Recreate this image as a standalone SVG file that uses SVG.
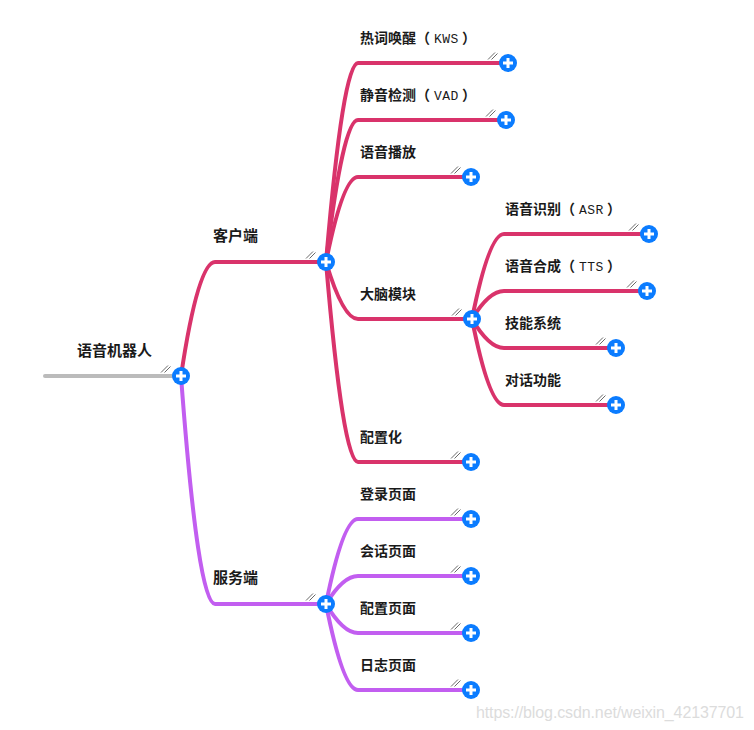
<svg xmlns="http://www.w3.org/2000/svg" xmlns:xlink="http://www.w3.org/1999/xlink" width="754" height="730" viewBox="0 0 754 730">
<defs>
<style>
.lbl{font-family:"Noto Sans CJK SC","Liberation Sans",sans-serif;font-size:14px;font-weight:600;fill:#1a1a1a}
.big{font-size:15px}
.lat{font-family:"Liberation Mono",monospace;font-size:13px;font-weight:normal;letter-spacing:0.5px}
.c{fill:none;stroke-width:4;stroke-linecap:round;stroke-linejoin:round}
.red{stroke:#d9336b}
.pur{stroke:#c25ef0}
.wm{font-family:"Liberation Sans",Arial,sans-serif;font-size:16px;fill:#dcdcdc}
</style>
<g id="plus">
<path d="M-20 -3.5L-13 -10.5M-16.5 -3.5L-10.5 -9.5" stroke="#444" stroke-width="0.8" fill="none"/>
<circle r="9" fill="#0b7cff"/>
<path d="M-5 0H5M0 -5V5" stroke="#fff" stroke-width="3"/>
</g>
</defs>
<rect width="754" height="730" fill="#fff"/>
<g id="connectors">
<path class="c" d="M45 376L181 376" stroke="#bbbbbb"/>
<path class="c red" d="M181 376Q198 262 215 262L326 262"/>
<path class="c pur" d="M181 376Q198 604 215 604L326 604"/>
<path class="c red" d="M326 262Q343 63 358 63L508 63"/>
<path class="c red" d="M326 262Q343 120 358 120L506 120"/>
<path class="c red" d="M326 262Q343 177 358 177L471 177"/>
<path class="c red" d="M326 262Q343 319 358 319L472 319"/>
<path class="c red" d="M326 262Q343 462 358 462L471 462"/>
<path class="c red" d="M472 319Q489 234 504 234L649 234"/>
<path class="c red" d="M472 319Q489 291 504 291L647 291"/>
<path class="c red" d="M472 319Q489 348 504 348L616 348"/>
<path class="c red" d="M472 319Q489 405 504 405L616 405"/>
<path class="c pur" d="M326 604Q343 519 358 519L471 519"/>
<path class="c pur" d="M326 604Q343 576 358 576L471 576"/>
<path class="c pur" d="M326 604Q343 633 358 633L471 633"/>
<path class="c pur" d="M326 604Q343 690 358 690L471 690"/>
</g>
<g id="node-root"><text class="lbl big" x="77" y="356">语音机器人</text><use xlink:href="#plus" href="#plus" x="181" y="376"/></g>
<g id="node-client"><text class="lbl big" x="213" y="241">客户端</text><use href="#plus" xlink:href="#plus" x="326" y="262"/></g>
<g id="node-server"><text class="lbl big" x="213" y="583">服务端</text><use href="#plus" xlink:href="#plus" x="326" y="604"/></g>
<g id="node-kws"><text class="lbl" x="360" y="43">热词唤醒（<tspan class="lat" dx="4">KWS</tspan><tspan dx="3">）</tspan></text><use href="#plus" xlink:href="#plus" x="508" y="63"/></g>
<g id="node-vad"><text class="lbl" x="360" y="100">静音检测（<tspan class="lat" dx="4">VAD</tspan><tspan dx="3">）</tspan></text><use href="#plus" xlink:href="#plus" x="506" y="120"/></g>
<g id="node-play"><text class="lbl" x="360" y="157">语音播放</text><use href="#plus" xlink:href="#plus" x="471" y="177"/></g>
<g id="node-brain"><text class="lbl" x="360" y="299">大脑模块</text><use href="#plus" xlink:href="#plus" x="472" y="319"/></g>
<g id="node-config"><text class="lbl" x="360" y="442">配置化</text><use href="#plus" xlink:href="#plus" x="471" y="462"/></g>
<g id="node-asr"><text class="lbl" x="505" y="214">语音识别（<tspan class="lat" dx="4">ASR</tspan><tspan dx="3">）</tspan></text><use href="#plus" xlink:href="#plus" x="649" y="234"/></g>
<g id="node-tts"><text class="lbl" x="505" y="271">语音合成（<tspan class="lat" dx="4">TTS</tspan><tspan dx="3">）</tspan></text><use href="#plus" xlink:href="#plus" x="647" y="291"/></g>
<g id="node-skill"><text class="lbl" x="505" y="328">技能系统</text><use href="#plus" xlink:href="#plus" x="616" y="348"/></g>
<g id="node-dialog"><text class="lbl" x="505" y="385">对话功能</text><use href="#plus" xlink:href="#plus" x="616" y="405"/></g>
<g id="node-login"><text class="lbl" x="360" y="499">登录页面</text><use href="#plus" xlink:href="#plus" x="471" y="519"/></g>
<g id="node-session"><text class="lbl" x="360" y="556">会话页面</text><use href="#plus" xlink:href="#plus" x="471" y="576"/></g>
<g id="node-cfgpage"><text class="lbl" x="360" y="613">配置页面</text><use href="#plus" xlink:href="#plus" x="471" y="633"/></g>
<g id="node-log"><text class="lbl" x="360" y="670">日志页面</text><use href="#plus" xlink:href="#plus" x="471" y="690"/></g>
<text class="wm" x="476" y="718" textLength="268">https://blog.csdn.net/weixin_42137701</text>
</svg>
